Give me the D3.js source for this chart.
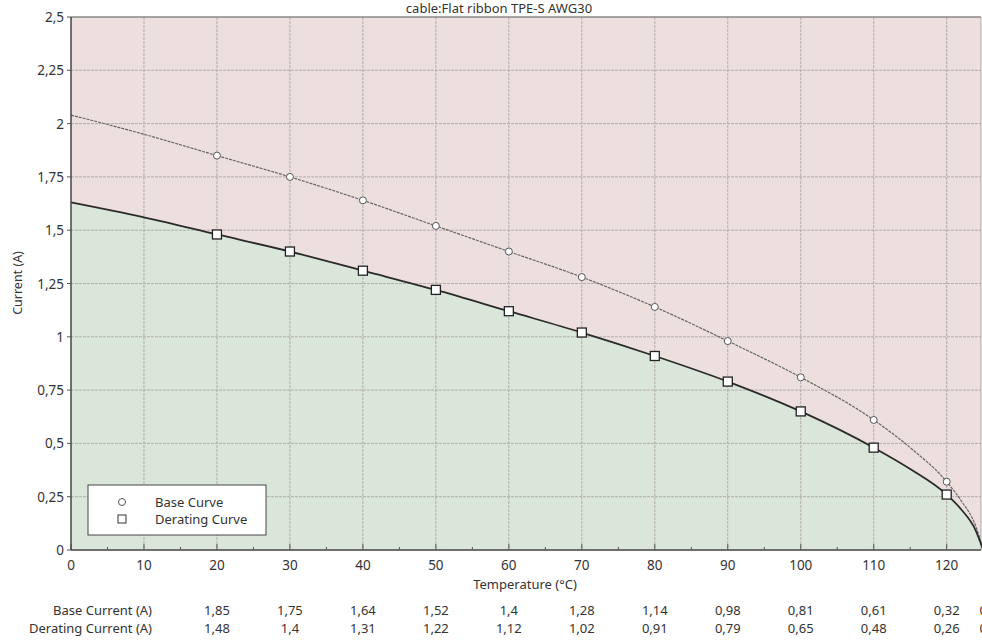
<!DOCTYPE html>
<html><head><meta charset="utf-8">
<script src="https://cdn.jsdelivr.net/npm/d3@7"></script>
<style>body{margin:0;background:#fff}svg{display:block;font-family:"Noto Sans","DejaVu Sans",sans-serif}</style>
</head><body><svg id="c" width="982" height="642"></svg>
<script>
const title = "cable:Flat ribbon TPE-S AWG30";
// curve points (temperature °C)
const temps = [0, 10, 20, 30, 40, 50, 60, 70, 80, 90, 100, 110, 115, 120, 122, 124, 125];
const baseCurve = [2.04, 1.95, 1.85, 1.75, 1.64, 1.52, 1.4, 1.28, 1.14, 0.98, 0.81, 0.61, 0.48, 0.32, 0.23, 0.11, 0];
const deratingCurve = [1.63, 1.56, 1.48, 1.4, 1.31, 1.22, 1.12, 1.02, 0.91, 0.79, 0.65, 0.48, 0.38, 0.26, 0.19, 0.09, 0];
// marker / table points
const markTemps = [20, 30, 40, 50, 60, 70, 80, 90, 100, 110, 120, 125];
const baseCurrent = [1.85, 1.75, 1.64, 1.52, 1.4, 1.28, 1.14, 0.98, 0.81, 0.61, 0.32, 0];
const deratingCurrent = [1.48, 1.4, 1.31, 1.22, 1.12, 1.02, 0.91, 0.79, 0.65, 0.48, 0.26, 0];
const xTicks = [0, 10, 20, 30, 40, 50, 60, 70, 80, 90, 100, 110, 120];
const yTicks = [0, 0.25, 0.5, 0.75, 1, 1.25, 1.5, 1.75, 2, 2.25, 2.5];

const svg = d3.select("#c");
const L = 71, R = 981, T = 17, B = 550;
const x = d3.scaleLinear().domain([0, 124.7]).range([L, R]);
const y = d3.scaleLinear().domain([0, 2.5]).range([B, T]);
const fmt = v => String(v).replace(".", ",");

// backgrounds
svg.append("rect").attr("x", L).attr("y", T).attr("width", R - L).attr("height", B - T).attr("fill", "#eedfdf");
const pts = temps.map((t, i) => ({t, b: baseCurve[i], d: deratingCurve[i]}));
svg.append("path").datum(pts).attr("fill", "#dae6da")
  .attr("d", d3.area().x(d => x(d.t)).y0(y(0)).y1(d => y(d.d)).curve(d3.curveMonotoneX));

// grid
const g = svg.append("g");
g.selectAll(".gx").data(xTicks.filter(v => v > 0)).join("line")
  .attr("x1", d => x(d)).attr("x2", d => x(d)).attr("y1", T).attr("y2", B)
  .attr("stroke", "#b2acac").attr("stroke-width", 1).attr("stroke-dasharray", "3,1");
g.selectAll(".gy").data(yTicks.filter(v => v > 0 && v < 2.5)).join("line")
  .attr("x1", L).attr("x2", R).attr("y1", d => y(d)).attr("y2", d => y(d))
  .attr("stroke", "#b2acac").attr("stroke-width", 1).attr("stroke-dasharray", "3,1");

// border
svg.append("line").attr("x1", L).attr("x2", R).attr("y1", T).attr("y2", T).attr("stroke", "#888").attr("stroke-width", 1.5);
svg.append("line").attr("x1", R).attr("x2", R).attr("y1", T).attr("y2", B).attr("stroke", "#aaa");

// curves
svg.append("path").datum(pts).attr("fill", "none").attr("stroke", "#666").attr("stroke-width", 1.2)
  .attr("stroke-dasharray", "3,1")
  .attr("d", d3.line().x(d => x(d.t)).y(d => y(d.b)).curve(d3.curveMonotoneX));
svg.append("path").datum(pts).attr("fill", "none").attr("stroke", "#2a2a2a").attr("stroke-width", 1.8)
  .attr("d", d3.line().x(d => x(d.t)).y(d => y(d.d)).curve(d3.curveMonotoneX));

// markers
const mk = markTemps.map((t, i) => ({t, b: baseCurrent[i], d: deratingCurrent[i]})).filter(d => d.t <= 120);
svg.selectAll(".mc").data(mk).join("circle").attr("cx", d => x(d.t)).attr("cy", d => y(d.b)).attr("r", 3.5)
  .attr("fill", "#fff").attr("stroke", "#555").attr("stroke-width", 1);
svg.selectAll(".ms").data(mk).join("rect").attr("x", d => x(d.t) - 4.5).attr("y", d => y(d.d) - 4.5)
  .attr("width", 9).attr("height", 9).attr("fill", "#fff").attr("stroke", "#222").attr("stroke-width", 1.3);

// axes
const xa = svg.append("g").attr("transform", `translate(0,${B})`);
xa.append("line").attr("x1", L).attr("x2", R).attr("stroke", "#444").attr("stroke-width", 1.5);
xa.selectAll(".mt").data(d3.range(5, 125, 10)).join("line").attr("x1", d => x(d)).attr("x2", d => x(d))
  .attr("y1", 0).attr("y2", -3).attr("stroke", "#555");
xa.selectAll(".Mt").data(xTicks).join("line").attr("x1", d => x(d)).attr("x2", d => x(d))
  .attr("y1", 0).attr("y2", -6).attr("stroke", "#555");
xa.selectAll("text").data(xTicks).join("text").attr("x", d => x(d)).attr("y", 20)
  .attr("text-anchor", "middle").attr("font-size", 13.5).attr("fill", "#333").text(d => d);

const ya = svg.append("g");
ya.append("line").attr("x1", L).attr("x2", L).attr("y1", T).attr("y2", B).attr("stroke", "#444").attr("stroke-width", 1.5);
ya.selectAll("line.t").data(yTicks).join("line").attr("class", "t").attr("x1", L - 4).attr("x2", L)
  .attr("y1", d => y(d)).attr("y2", d => y(d)).attr("stroke", "#555");
ya.selectAll("text").data(yTicks).join("text").attr("x", L - 7).attr("y", d => y(d) + 5)
  .attr("text-anchor", "end").attr("font-size", 13.5).attr("fill", "#333").text(d => fmt(d));

// labels
svg.append("text").attr("x", 499).attr("y", 13).attr("text-anchor", "middle").attr("font-size", 13).attr("fill", "#333").text(title);
svg.append("text").attr("x", 525).attr("y", 589).attr("text-anchor", "middle").attr("font-size", 13).attr("fill", "#333").text("Temperature (°C)");
svg.append("text").attr("transform", "translate(22,283) rotate(-90)").attr("text-anchor", "middle").attr("font-size", 12.5).attr("fill", "#333").text("Current (A)");

// legend
const lg = svg.append("g");
lg.append("rect").attr("x", 88).attr("y", 485).attr("width", 178).attr("height", 50).attr("fill", "#fff").attr("stroke", "#444").attr("stroke-width", 1);
lg.append("circle").attr("cx", 122).attr("cy", 502).attr("r", 3.5).attr("fill", "#fff").attr("stroke", "#555");
lg.append("rect").attr("x", 118).attr("y", 515).attr("width", 8).attr("height", 8).attr("fill", "#fff").attr("stroke", "#333");
lg.append("text").attr("x", 155).attr("y", 507).attr("font-size", 13).attr("fill", "#333").text("Base Curve");
lg.append("text").attr("x", 155).attr("y", 524).attr("font-size", 13).attr("fill", "#333").text("Derating Curve");

// table
const tb = svg.append("g").attr("font-size", 13).attr("fill", "#333");
tb.append("text").attr("x", 152).attr("y", 615).attr("text-anchor", "end").text("Base Current (A)");
tb.append("text").attr("x", 152).attr("y", 633).attr("text-anchor", "end").text("Derating Current (A)");
const rows = markTemps.map((t, i) => ({t, b: baseCurrent[i], d: deratingCurrent[i]}));
tb.selectAll(".rb").data(rows).join("text").attr("x", d => x(d.t)).attr("y", 615).attr("text-anchor", "middle").text(d => fmt(d.b));
tb.selectAll(".rd").data(rows).join("text").attr("x", d => x(d.t)).attr("y", 633).attr("text-anchor", "middle").text(d => fmt(d.d));
</script></body></html>
